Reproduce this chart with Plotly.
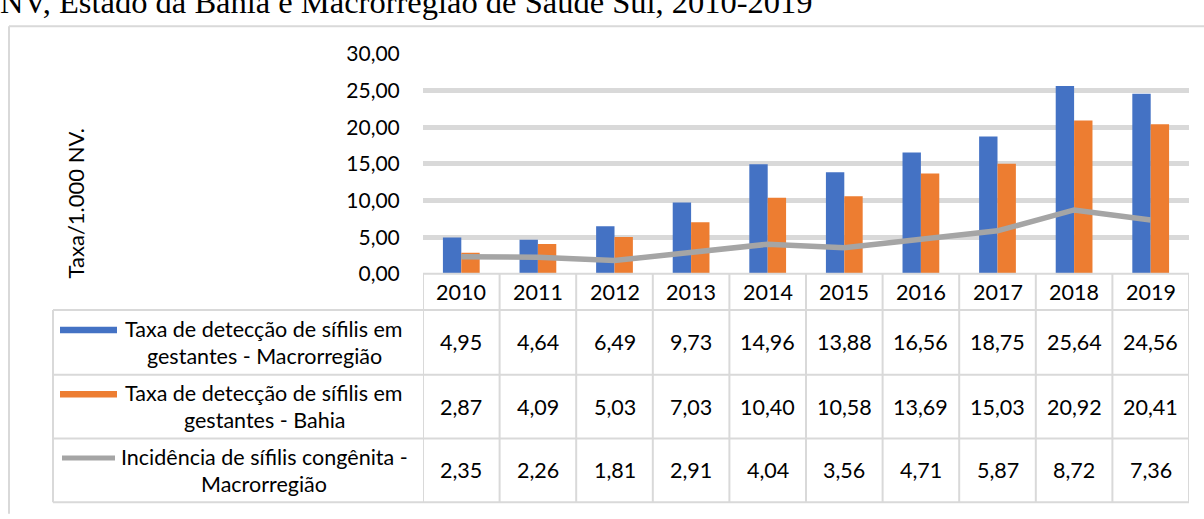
import plotly.graph_objects as go

# ---------------- data ----------------
years = ["2010", "2011", "2012", "2013", "2014", "2015", "2016", "2017", "2018", "2019"]
macro = [4.95, 4.64, 6.49, 9.73, 14.96, 13.88, 16.56, 18.75, 25.64, 24.56]
bahia = [2.87, 4.09, 5.03, 7.03, 10.40, 10.58, 13.69, 15.03, 20.92, 20.41]
congen = [2.35, 2.26, 1.81, 2.91, 4.04, 3.56, 4.71, 5.87, 8.72, 7.36]
series_labels = [
    ["Taxa de detecção de sífilis em", "gestantes - Macrorregião"],
    ["Taxa de detecção de sífilis em", "gestantes - Bahia"],
    ["Incidência de sífilis congênita -", "Macrorregião"],
]
y_ticks = [0, 5, 10, 15, 20, 25, 30]
y_title = "Taxa/1.000 NV."
title_text = "NV, Estado da Bahia e Macrorregião de Saúde Sul, 2010-2019"

# ---------------- styles ----------------
W, H = 1204, 519
BLUE, ORANGE, GRAY = "#4472C4", "#ED7D31", "#A5A5A5"
GRID = "#D9D9D9"
FONT = "Lato"
TXT = "#000000"
FS = 21.5


def px(x):
    return x / W


def py(y):
    return 1 - y / H


def fmt(v):
    return f"{v:.2f}".replace(".", ",")


PLOT_L, PLOT_R, PLOT_T, PLOT_B = 423, 1189, 42, 273
ROWS = [311, 379, 446, 513]
LEG_L = 53
HALF = 14

fig = go.Figure()
fig.add_trace(go.Bar(x=years, y=macro, marker=dict(color=BLUE, line=dict(width=0)),
                     name="macro", showlegend=False))
fig.add_trace(go.Bar(x=years, y=bahia, marker=dict(color=ORANGE, line=dict(width=0)),
                     name="bahia", showlegend=False))
fig.add_trace(go.Scatter(x=years, y=congen, mode="lines",
                         line=dict(color=GRAY, width=5.5), name="congen", showlegend=False))

shapes = []
ann = []

# outer chart border (left + top)
shapes.append(dict(type="line", xref="paper", yref="paper", x0=px(9), x1=px(9),
                   y0=py(13), y1=py(525), line=dict(color=GRID, width=2)))
shapes.append(dict(type="line", xref="paper", yref="paper", x0=px(9), x1=px(1210),
                   y0=py(13), y1=py(13), line=dict(color=GRID, width=2)))

# table horizontal lines
shapes.append(dict(type="line", xref="paper", yref="paper", x0=px(PLOT_L), x1=px(PLOT_R),
                   y0=py(PLOT_B), y1=py(PLOT_B), line=dict(color=GRID, width=2)))
for r in ROWS:
    shapes.append(dict(type="line", xref="paper", yref="paper", x0=px(LEG_L), x1=px(PLOT_R),
                       y0=py(r), y1=py(r), line=dict(color=GRID, width=2)))
# legend column left edge
shapes.append(dict(type="line", xref="paper", yref="paper", x0=px(LEG_L), x1=px(LEG_L),
                   y0=py(ROWS[0]), y1=py(ROWS[-1]), line=dict(color=GRID, width=2)))
# category dividers
for i in range(len(years) + 1):
    shapes.append(dict(type="line", xref="x", yref="paper", x0=i - 0.5, x1=i - 0.5,
                       y0=py(PLOT_B), y1=py(ROWS[-1]), line=dict(color=GRID, width=2)))


def text(x, xref, y, s, size=FS, **kw):
    d = dict(x=x, xref=xref, y=y, yref="paper", text=s, showarrow=False,
             xanchor="center", yanchor="middle",
             font=dict(family=FONT, size=size, color=TXT))
    d.update(kw)
    return d


# header years (category axis -> annotation x is the category index)
for i, yr in enumerate(years):
    ann.append(text(i, "x", py((PLOT_B + ROWS[0]) / 2), yr))

# values rows + legend labels
for ri, vals in enumerate([macro, bahia, congen]):
    yc = (ROWS[ri] + ROWS[ri + 1]) / 2
    for i, v in enumerate(vals):
        ann.append(text(i, "x", py(yc), fmt(v)))
    for li, line in enumerate(series_labels[ri]):
        ann.append(text(px(264), "paper", py(yc - HALF + 2 * HALF * li), line))

# legend keys
k1 = (ROWS[0] + ROWS[1]) / 2 - HALF + 1
k2 = (ROWS[1] + ROWS[2]) / 2 - HALF + 1
k3 = (ROWS[2] + ROWS[3]) / 2 - HALF + 1
shapes.append(dict(type="rect", xref="paper", yref="paper", x0=px(60), x1=px(117),
                   y0=py(k1 - 3.5), y1=py(k1 + 3.5), fillcolor=BLUE, line=dict(width=0)))
shapes.append(dict(type="rect", xref="paper", yref="paper", x0=px(60), x1=px(117),
                   y0=py(k2 - 3.5), y1=py(k2 + 3.5), fillcolor=ORANGE, line=dict(width=0)))
shapes.append(dict(type="line", xref="paper", yref="paper", x0=px(62), x1=px(115),
                   y0=py(k3), y1=py(k3), line=dict(color=GRAY, width=5)))

# y axis title
ann.append(text(px(75), "paper", py(199), y_title, size=22, textangle=-90))
# cut-off title on top
ann.append(dict(x=px(-2), xref="paper", y=py(-13), yref="paper", text=title_text,
                xanchor="left", yanchor="middle", showarrow=False,
                font=dict(family="Liberation Serif", size=32.5, color=TXT)))

fig.update_layout(
    width=W, height=H, autosize=False,
    margin=dict(l=0, r=0, t=0, b=0),
    paper_bgcolor="white", plot_bgcolor="white",
    barmode="group", bargap=0.52, bargroupgap=0,
    showlegend=False,
    shapes=shapes, annotations=ann,
    xaxis=dict(domain=[px(PLOT_L), px(PLOT_R)], type="category", range=[-0.5, 9.5],
               showticklabels=False, showgrid=False, zeroline=False, showline=False, ticks=""),
    yaxis=dict(domain=[py(PLOT_B), py(PLOT_T)], range=[0, 30], tickvals=y_ticks,
               ticktext=[fmt(v) for v in y_ticks], showgrid=True, gridcolor=GRID, gridwidth=5,
               zeroline=False, showline=False, ticks="outside", ticklen=18,
               tickcolor="rgba(0,0,0,0)", tickfont=dict(family=FONT, size=21, color=TXT)),
)

fig.write_html("out.html", config={"displayModeBar": False},
               post_script="document.body.style.margin='0';")
